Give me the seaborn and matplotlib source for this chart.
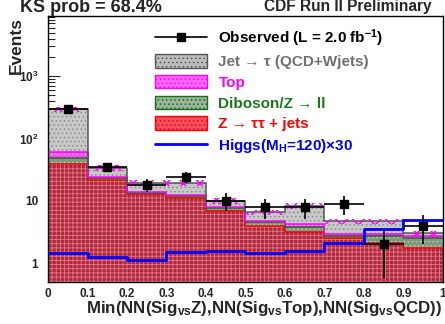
import numpy as np
import pandas as pd
import matplotlib
matplotlib.use("Agg")
import matplotlib.pyplot as plt
from matplotlib.patches import Patch
from matplotlib.lines import Line2D
import matplotlib.colors as mcolors
import seaborn as sns

# ---- histogram content ----
bin_edges = [0.0, 0.1, 0.2, 0.3, 0.4, 0.5, 0.6, 0.7, 0.8, 0.9, 1.0]
ztautau = [39.5, 21.8, 13.0, 11.2, 6.9, 3.95, 3.15, 2.5, 2.1, 1.75]
diboson = [9.5, 1.6, 0.4, 0.8, 0.8, 0.65, 0.65, 0.25, 0.65, 0.75]
top = [12.7, 0.9, 0.5, 0.5, 0.2, 0.2, 0.4, 0.15, 0.15, 0.2]
jet_fakes = [230.0, 9.7, 5.6, 7.0, 2.1, 1.8, 4.1, 1.8, 1.8, 0.3]
observed = [300, 35, 18, 24, 10, 8, 8, 9, 2, 4]
higgs_x30 = [1.45, 1.25, 1.12, 1.5, 1.56, 1.45, 1.55, 2.1, 3.5, 4.9]

x_ticks = [0, 0.1, 0.2, 0.3, 0.4, 0.5, 0.6, 0.7, 0.8, 0.9, 1.0]
x_tick_labels = ["0", "0.1", "0.2", "0.3", "0.4", "0.5", "0.6", "0.7", "0.8", "0.9", "1"]
y_ticks = [1, 10, 100, 1000]
y_tick_labels = ["1", "10", r"$\mathbf{10^{2}}$", r"$\mathbf{10^{3}}$"]

lbl_obs = r"Observed (L = 2.0 fb$^{\mathbf{-1}}$)"
lbl_jet = "Jet \u2192 \u03c4 (QCD+Wjets)"
lbl_top = "Top"
lbl_dib = "Diboson/Z \u2192 ll"
lbl_ztt = "Z \u2192 \u03c4\u03c4 + jets"
lbl_hig = r"Higgs(M$_{\mathbf{H}}$=120)" + "\u00d730"

# style: face colour, hatch colour, outline colour, text colour
procs = [lbl_jet, lbl_top, lbl_dib, lbl_ztt]
face = {lbl_jet: "#c8c8c8", lbl_top: "#ff4cff", lbl_dib: "#7f9a80", lbl_ztt: "#b0283c"}
hatchc = {lbl_jet: "#8c8c8c", lbl_top: "#ffb0ff", lbl_dib: "#b8c8b8", lbl_ztt: "#e07888"}
edge = {lbl_jet: "#555555", lbl_top: "#ff00ff", lbl_dib: "#1a6e1a", lbl_ztt: "#ff0000"}
legface = {lbl_jet: "#bdbdbd", lbl_top: "#ff66ff", lbl_dib: "#9ab29a", lbl_ztt: "#f05060"}
txtc = {lbl_jet: "#707070", lbl_top: "#ff00ff", lbl_dib: "#1a7a1a", lbl_ztt: "#ff0000"}

sns.set_style("ticks")
plt.rcParams["font.family"] = ["Liberation Sans", "DejaVu Sans"]
plt.rcParams["font.weight"] = "bold"
plt.rcParams["mathtext.fontset"] = "custom"
plt.rcParams["mathtext.rm"] = "Liberation Sans:bold"
plt.rcParams["mathtext.bf"] = "Liberation Sans:bold"
plt.rcParams["mathtext.it"] = "Liberation Sans:bold"
plt.rcParams["hatch.linewidth"] = 0.6

edges = np.array(bin_edges)
centers = 0.5 * (edges[:-1] + edges[1:])
half_w = 0.5 * np.diff(edges)

rows = []
for name, vals in zip(procs, [jet_fakes, top, diboson, ztautau]):
    for c, v in zip(centers, vals):
        rows.append({"x": c, "w": v, "process": name})
df = pd.DataFrame(rows)

fig = plt.figure(figsize=(4.45, 3.24), dpi=100)
ax = fig.add_axes([48 / 445, 42 / 324, 395 / 445, 266 / 324])

# stacked background fill
sns.histplot(data=df, x="x", weights="w", hue="process", hue_order=procs,
             bins=bin_edges, multiple="stack", element="bars", fill=True,
             palette=face, alpha=1.0, linewidth=0, legend=False, ax=ax)
face_rgba = {k: mcolors.to_rgba(v) for k, v in face.items()}
for p in ax.patches:
    fc = tuple(np.round(p.get_facecolor(), 3))
    for k, v in face_rgba.items():
        if tuple(np.round(v, 3)) == fc:
            p.set_hatch("++++" if k == lbl_ztt else "....")
            p.set_edgecolor(hatchc[k])
            p.set_linewidth(0)

# stacked outlines
sns.histplot(data=df, x="x", weights="w", hue="process", hue_order=procs,
             bins=bin_edges, multiple="stack", element="step", fill=False,
             palette=edge, linewidth=1.1, legend=False, ax=ax)

# uncertainty band on the total prediction
total = np.array(jet_fakes) + np.array(top) + np.array(diboson) + np.array(ztautau)
with plt.rc_context({"hatch.linewidth": 1.1}):
    band = ax.bar(centers, total * 0.2, bottom=total * 0.9, width=np.diff(edges),
                  facecolor="none", edgecolor="#ff00ff", hatch="xx", linewidth=0,
                  zorder=3)
    for p in band:
        if hasattr(p, "set_hatch_linewidth"):
            p.set_hatch_linewidth(1.1)

# signal
sns.histplot(x=centers, weights=higgs_x30, bins=bin_edges, element="step",
             fill=False, color="#0000ff", linewidth=2.0, ax=ax, zorder=4)

# data
obs = np.array(observed, dtype=float)
ax.errorbar(centers, obs, xerr=half_w, yerr=np.sqrt(obs), fmt="s", color="black",
            ms=5.5, elinewidth=1.2, capsize=0, zorder=5)

ax.set_yscale("log")
ax.set_xlim(0, 1.0)
ax.set_ylim(0.5, 9200)
ax.set_xticks(x_ticks)
ax.set_xticklabels(x_tick_labels, fontsize=8.5, fontweight="bold")
ax.set_yticks(y_ticks)
ax.set_yticklabels(y_tick_labels, fontsize=8.5, fontweight="bold")
ax.tick_params(axis="y", which="major", direction="in", length=8.5, width=0.8, pad=7)
ax.tick_params(axis="y", which="minor", direction="in", length=5, width=0.8)
ax.tick_params(axis="x", which="both", length=0, pad=4)
ax.set_xlabel("")
ax.set_ylabel("")
for s in ax.spines.values():
    s.set_linewidth(1.0)
    s.set_color("black")

fig.text(20 / 445, 1 - 12.5 / 324, "KS prob = 68.4%", fontsize=13, fontweight="bold",
         ha="left", va="baseline")
fig.text(432 / 445, 1 - 11 / 324, "CDF Run II Preliminary", fontsize=11.2,
         fontweight="bold", ha="right", va="baseline")
fig.text(16 / 445, 1 - 17 / 324, "Events", rotation=90, fontsize=12.5,
         fontweight="bold", ha="center", va="top")
fig.text(442 / 445, 1 - 313 / 324,
         r"Min(NN(Sig$_{\mathbf{vs}}$Z),NN(Sig$_{\mathbf{vs}}$Top),NN(Sig$_{\mathbf{vs}}$QCD))",
         fontsize=12.2, fontweight="bold", ha="right", va="baseline")

handles = [Line2D([], [], color="black", marker="s", ms=5.5, lw=1.2)]
for k in procs:
    handles.append(Patch(facecolor=legface[k], edgecolor=edge[k], hatch="....", lw=1.0))
handles.append(Line2D([], [], color="#0000ff", lw=2.0))
labels = [lbl_obs] + procs + [lbl_hig]
colors = ["black"] + [txtc[k] for k in procs] + ["#0000ff"]
fig.legend(handles, labels, loc="upper left", bbox_to_anchor=(155 / 445, 1 - 27 / 324),
           frameon=False, labelcolor=colors, handlelength=3.4,
           handleheight=0.95, handletextpad=0.75, labelspacing=0.38,
           borderpad=0, borderaxespad=0, numpoints=1,
           prop={"weight": "bold", "size": 11})

fig.savefig("out.png", dpi=100)
